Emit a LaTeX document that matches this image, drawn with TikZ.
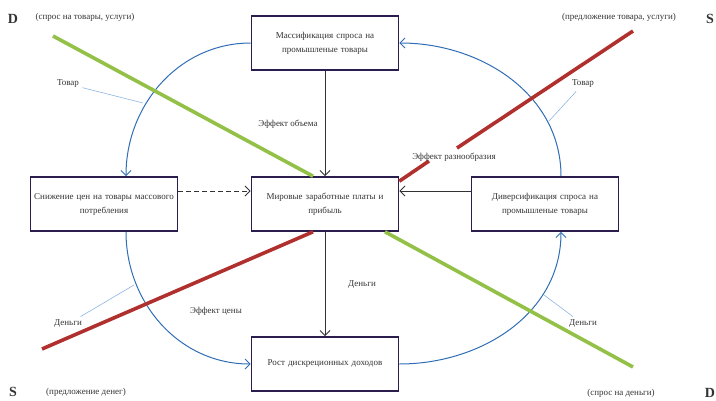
\documentclass[tikz,border=0pt]{standalone}
\usepackage{fontspec}
\setmainfont{Liberation Serif}
\usetikzlibrary{arrows.meta}

\definecolor{boxline}{HTML}{2B1D4E}
\definecolor{flowblue}{HTML}{2F6EB5}
\definecolor{leaderblue}{HTML}{8EB4E3}
\definecolor{demandgreen}{HTML}{93C047}
\definecolor{supplyred}{HTML}{B0302E}

\tikzset{
  block/.style={draw=boxline, line width=1.6pt, fill=white, minimum width=147pt,
    minimum height=54pt, text width=140pt, align=center},
  flow/.style={->, line width=1pt, draw=black!80},
  cycle/.style={->, line width=1pt, draw=flowblue},
  leader/.style={line width=0.6pt, draw=leaderblue},
  demand/.style={line width=3.6pt, draw=demandgreen},
  supply/.style={line width=3.6pt, draw=supplyred},
  corner/.style={font=\fontsize{14}{16}\selectfont\bfseries}
}

\begin{document}
\begin{tikzpicture}[x=1pt, y=-1pt, >={Straight Barb[length=5pt,width=10pt]},
    every node/.style={font=\fontsize{9}{14}\selectfont, text=black!80}]
        \useasboundingbox (0,0) rectangle (716,400);

        \node[block] (mass) at (325, 43) {Массификация спроса на\\промышленые товары};
        \node[block] (price) at (104, 204) {Снижение цен на товары массового\\потребления};
        \node[block] (wage) at (325, 204) {Мировые заработные платы и\\прибыль};
        \node[block] (diver) at (545, 204) {Диверсификация спроса на\\промышленые товары};
        \node[block] (income) at (325, 364) {Рост дискреционных доходов};

        \draw[flow] (mass) -- (wage);
        \draw[flow] (wage) -- (income);
        \draw[flow, dash pattern=on 5pt off 3pt] ([yshift=13pt]price.east) -- ([yshift=13pt]wage.west);
        \draw[flow] ([yshift=13pt]diver.west) -- ([yshift=13pt]wage.east);

        \draw[cycle] (mass.west) to[out=180, in=90] ([xshift=22pt]price.north);
        \draw[cycle] ([xshift=22pt]price.south) to[out=-90, in=180] (income.west);
        \draw[cycle] (income.east) to[out=0, in=-90] ([xshift=16pt]diver.south);
        \draw[cycle] ([xshift=16pt]diver.north) to[out=90, in=0] (mass.east);

        % demand and supply lines
        \draw[demand] (53, 36) -- ([xshift=-12pt]wage.north);
        \draw[demand] ([xshift=60pt]wage.south) -- (633, 367);
        \draw[supply] (633, 31) -- (457, 148);
        \draw[supply] (429, 161) -- ([yshift=-5pt]wage.north east);
        \draw[supply] (42, 349) -- ([xshift=-12pt]wage.south);

        \node (volume) at (288, 124) {Эффект объема};
        \node (money) at (362, 285) {Деньги};
        \node (pricefx) at (216, 311) {Эффект цены};
        \node (variety) at (454, 157) {Эффект разнообразия};

        \node (goodsL) at (68, 84) {Товар};
        \node (goodsR) at (583, 84) {Товар};
        \node (moneyL) at (68, 324) {Деньги};
        \node (moneyR) at (583, 324) {Деньги};
        \coordinate (tL) at (143, 103);
        \coordinate (tR) at (549, 121);
        \coordinate (mL) at (134, 285);
        \coordinate (mR) at (544, 295);
        \draw[leader] (goodsL) -- (tL);
        \draw[leader] (goodsR) -- (tR);
        \draw[leader] (moneyL) -- (mL);
        \draw[leader] (moneyR) -- (mR);

        \node[corner] (dTop) at (13, 19) {D};
        \node (dTopText) at (85, 17) {(спрос на товары, услуги)};
        \node[corner] (sTop) at (710, 19) {S};
        \node (sTopText) at (619, 17) {(предложение товара, услуги)};
        \node[corner] (sBot) at (13, 392) {S};
        \node (sBotText) at (86, 392) {(предложение денег)};
        \node[corner] (dBot) at (710, 393) {D};
        \node (dBotText) at (621, 393) {(спрос на деньги)};

    \end{tikzpicture}
\end{document}
